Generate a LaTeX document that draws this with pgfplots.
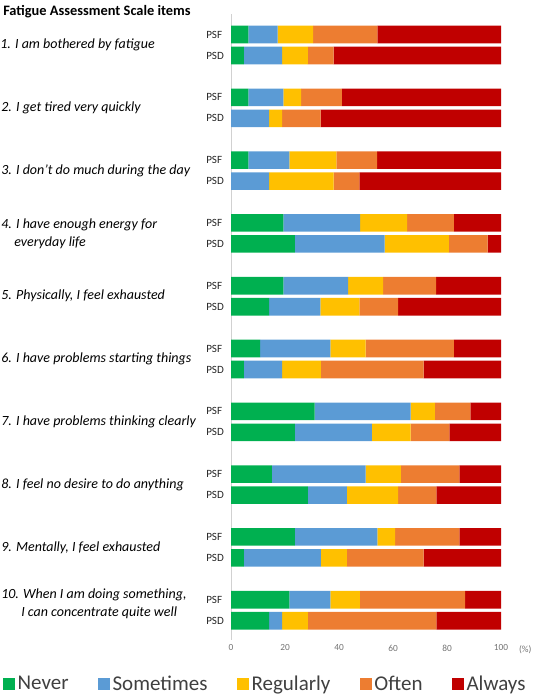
\documentclass[border=0pt]{standalone}
\usepackage{pgfplots}
\pgfplotsset{compat=1.18}
\usepackage{pgfplotstable}
\usepackage{fontspec}
\setmainfont{Carlito}
\definecolor{cNever}{HTML}{00B050}
\definecolor{cSome}{HTML}{5B9BD5}
\definecolor{cReg}{HTML}{FFC000}
\definecolor{cOften}{HTML}{ED7D31}
\definecolor{cAlways}{HTML}{C00000}

\pgfplotstableread{
y     never sometimes regularly often always
34.5  6.4  10.9 13.1 23.8 45.8
55.5  4.8  14.1  9.6  9.5 62.0
97.3  6.4  13.0  6.6 15.1 58.9
118.3 0.0  14.1  4.8 14.3 66.8
160.1 6.4  15.2 17.4 15.1 45.9
181.1 0.0  14.1 23.9  9.5 52.5
222.9 19.4 28.4 17.4 17.3 17.5
243.9 23.7 33.2 23.8 14.3  5.0
285.7 19.4 24.0 12.9 19.7 24.0
306.7 14.1 19.0 14.4 14.4 38.1
348.5 10.8 26.0 13.1 32.6 17.5
369.5  4.8 14.1 14.4 38.0 28.7
411.3 31.0 35.5  9.0 13.2 11.3
432.3 23.7 28.5 14.3 14.4 19.1
474.1 15.1 34.8 13.0 21.7 15.4
495.1 28.5 14.4 19.0 14.2 23.9
536.9 23.7 30.5  6.6 23.8 15.4
557.9  4.8 28.5  9.6 28.4 28.7
599.7 21.6 15.2 10.9 39.0 13.3
620.7 14.1  4.8  9.6 47.6 23.9
}\fasdata

\begin{document}
\begin{tikzpicture}
\useasboundingbox (0,0) rectangle (399pt,-522pt);
\begin{axis}[
  at={(173.25pt,-480pt)}, anchor=south west,
  scale only axis, width=202.5pt, height=469.5pt,
  xbar stacked, bar width=17.6,
  xmin=0, xmax=100, ymin=14, ymax=640, y dir=reverse,
  xtick={0,20,...,100},
  ytick=data,
  yticklabels={PSF,PSD,PSF,PSD,PSF,PSD,PSF,PSD,PSF,PSD,PSF,PSD,PSF,PSD,PSF,PSD,PSF,PSD,PSF,PSD},
  axis lines*=left,
  x axis line style={draw=none},
  y axis line style={draw=black!18},
  tick style={draw=none},
  /pgf/number format/assume math mode=true,
  xticklabel style={font=\fontsize{7}{8}\selectfont, text=black!55},
  yticklabel style={font=\fontsize{8.3}{9}\selectfont, text=black!85, anchor=west, inner sep=0pt, xshift=-18.75pt},
  xlabel={(\%)},
  xlabel style={at={(axis description cs:1,0)}, anchor=west, font=\fontsize{7}{8}\selectfont, text=black!55, xshift=10pt, yshift=-7.5pt},
  legend columns=5,
  legend style={at={(axis description cs:0.128,-0.0703)}, anchor=center, draw=none, fill=none,
    font=\fontsize{15.75}{18}\selectfont, text=black!75,
    /tikz/every even column/.append style={column sep=20pt}},
  legend image code/.code={\fill[#1] (0pt,-4.5pt) rectangle (9pt,4.5pt);},
]
\addplot[fill=cNever, draw=none] table[x=never, y=y] {\fasdata};
\addplot[fill=cSome, draw=none] table[x=sometimes, y=y] {\fasdata};
\addplot[fill=cReg, draw=none] table[x=regularly, y=y] {\fasdata};
\addplot[fill=cOften, draw=none] table[x=often, y=y] {\fasdata};
\addplot[fill=cAlways, draw=none] table[x=always, y=y] {\fasdata};
\legend{Never,Sometimes,Regularly,Often,Always}
\end{axis}
\begin{scope}[x=0.75pt, y=-0.75pt]
\node[anchor=west, inner sep=0pt, font=\fontsize{10.8}{12}\selectfont\bfseries] at (3,12) {Fatigue Assessment Scale items};
\tikzset{itm/.style={anchor=west, inner sep=0pt, align=left, font=\fontsize{10.5}{13.5}\selectfont\itshape}}
\node[itm] at (0,45) {1. I am bothered by fatigue};
\node[itm] at (1,107.8) {2. I get tired very quickly};
\node[itm] at (1,170.6) {3. I don't do much during the day};
\node[itm] at (1,233.4) {4. I have enough energy for\\\hspace*{9.75pt}everyday life};
\node[itm] at (1,296.2) {5. Physically, I feel exhausted};
\node[itm] at (1,359) {6. I have problems starting things};
\node[itm] at (1,421.8) {7. I have problems thinking clearly};
\node[itm] at (1,484.6) {8. I feel no desire to do anything};
\node[itm] at (1,547.4) {9. Mentally, I feel exhausted};
\node[itm] at (1,604) {10. When I am doing something,\\\hspace*{15pt}I can concentrate quite well};
\end{scope}
\end{tikzpicture}
\end{document}
